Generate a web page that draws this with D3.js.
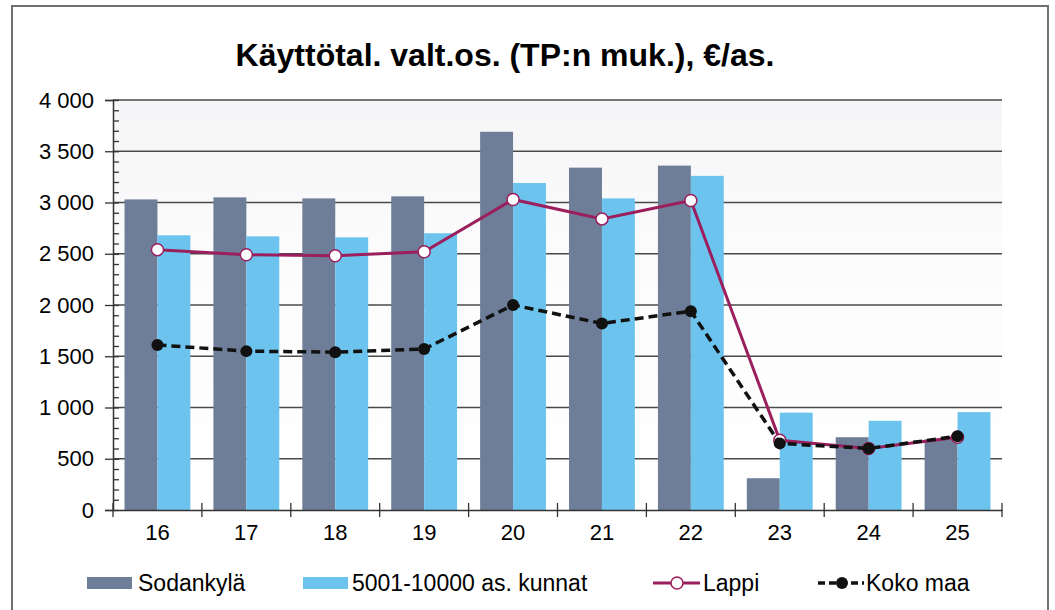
<!DOCTYPE html>
<html>
<head>
<meta charset="utf-8">
<script src="https://cdn.jsdelivr.net/npm/d3@7"></script>
<style>
  body { margin: 0; background: #fff; }
  text { font-family: "Liberation Sans", Arial, sans-serif; fill: #000; }
</style>
</head>
<body>
<main></main>
<script>
const years = ['16', '17', '18', '19', '20', '21', '22', '23', '24', '25'];
const sodankyla = [3030, 3050, 3040, 3060, 3690, 3340, 3360, 310, 710, 690];
const kunnat = [2680, 2670, 2660, 2700, 3190, 3040, 3260, 950, 870, 955];
const lappi = [2540, 2490, 2480, 2520, 3030, 2840, 3020, 680, 600, 710];
const kokoMaa = [1610, 1550, 1540, 1570, 2000, 1820, 1940, 650, 600, 720];
const yTicks = [0, 500, 1000, 1500, 2000, 2500, 3000, 3500, 4000];

const colDark = '#6e7e98';
const colLight = '#6cc4ee';
const colLappi = '#9a1f5c';

const svg = d3.select('main')
    .append('svg')
    .attr('width', 1055)
    .attr('height', 610);

// outer frame
svg.append('rect')
    .attr('x', 12).attr('y', 6)
    .attr('width', 1036).attr('height', 630)
    .attr('fill', '#fff')
    .attr('stroke', '#707070')
    .attr('stroke-width', 2);

svg.append('text')
    .attr('x', 505)
    .attr('y', 66)
    .attr('text-anchor', 'middle')
    .style('font-size', '32px')
    .style('font-weight', 'bold')
    .text('Käyttötal. valt.os. (TP:n muk.), €/as.');

const plotL = 113, plotR = 1002, plotT = 100, plotB = 510;

const x = d3.scaleBand().domain(years).range([plotL, plotR]).padding(0);
const xs = d3.scaleBand().domain([0, 1]).range([0, x.bandwidth()]).paddingOuter(0.35).paddingInner(0);
const y = d3.scaleLinear().domain([0, 4000]).range([plotB, plotT]);

// plot background
const grad = svg.append('defs').append('linearGradient')
    .attr('id', 'bg').attr('x1', 0).attr('y1', 0).attr('x2', 0).attr('y2', 1);
grad.append('stop').attr('offset', '0%').attr('stop-color', '#f5f5f7');
grad.append('stop').attr('offset', '40%').attr('stop-color', '#fcfcfd');
grad.append('stop').attr('offset', '100%').attr('stop-color', '#ffffff');
svg.append('rect')
    .attr('x', plotL).attr('y', plotT)
    .attr('width', plotR - plotL).attr('height', plotB - plotT)
    .attr('fill', 'url(#bg)');

// gridlines
svg.append('g')
    .selectAll('line')
    .data(yTicks.filter(d => d > 0))
    .enter()
    .append('line')
    .attr('x1', plotL).attr('x2', plotR)
    .attr('y1', d => y(d)).attr('y2', d => y(d))
    .attr('stroke', '#4a4a4a')
    .attr('stroke-width', 1.4);

// bars
const groups = svg.append('g')
    .selectAll('g')
    .data(years)
    .enter()
    .append('g')
    .attr('transform', d => `translate(${x(d)},0)`);

groups.append('rect')
    .attr('x', xs(0))
    .attr('width', xs.bandwidth())
    .attr('y', (d, i) => y(sodankyla[i]))
    .attr('height', (d, i) => y(0) - y(sodankyla[i]))
    .attr('fill', colDark);

groups.append('rect')
    .attr('x', xs(1))
    .attr('width', xs.bandwidth())
    .attr('y', (d, i) => y(kunnat[i]))
    .attr('height', (d, i) => y(0) - y(kunnat[i]))
    .attr('fill', colLight);

// y axis
const yAxis = svg.append('g')
    .attr('transform', `translate(${plotL},0)`)
    .call(d3.axisLeft(y)
        .tickValues(yTicks)
        .tickSize(8)
        .tickPadding(11)
        .tickFormat(d => d3.format(',')(d).replace(',', ' ')));
yAxis.selectAll('text').style('font-size', '22px');

const yMinor = svg.append('g')
    .attr('transform', `translate(${plotL},0)`)
    .call(d3.axisRight(y)
        .tickValues(d3.range(0, 4001, 100))
        .tickSize(6)
        .tickFormat(''));
yMinor.select('.domain').remove();

[yAxis, yMinor].forEach(g => {
    g.selectAll('line').attr('stroke', '#333').attr('stroke-width', 1.3);
    g.selectAll('.domain').attr('stroke', '#333').attr('stroke-width', 1.5);
});

// x axis
const xAxis = svg.append('g')
    .attr('transform', `translate(0,${plotB})`)
    .call(d3.axisBottom(x).tickSize(0).tickPadding(14));
xAxis.selectAll('text').style('font-size', '22px');
xAxis.select('.domain').attr('stroke', '#333').attr('stroke-width', 1.5);
xAxis.selectAll('.boundary')
    .data(years.map(d => x(d)).concat([plotR]))
    .enter()
    .append('line')
    .attr('class', 'boundary')
    .attr('x1', d => d).attr('x2', d => d)
    .attr('y1', -7).attr('y2', 7)
    .attr('stroke', '#333')
    .attr('stroke-width', 1.3);

// lines
const cx = (d, i) => x(years[i]) + x.bandwidth() / 2;
const line = d3.line().x(cx).y(d => y(d));

svg.append('path')
    .datum(lappi)
    .attr('d', line)
    .attr('fill', 'none')
    .attr('stroke', colLappi)
    .attr('stroke-width', 3);

svg.append('g')
    .selectAll('circle')
    .data(lappi)
    .enter()
    .append('circle')
    .attr('cx', cx)
    .attr('cy', d => y(d))
    .attr('r', 6)
    .attr('fill', '#fff')
    .attr('stroke', colLappi)
    .attr('stroke-width', 1.5);

svg.append('path')
    .datum(kokoMaa)
    .attr('d', line)
    .attr('fill', 'none')
    .attr('stroke', '#111')
    .attr('stroke-width', 3.5)
    .attr('stroke-dasharray', '9,5');

svg.append('g')
    .selectAll('circle')
    .data(kokoMaa)
    .enter()
    .append('circle')
    .attr('cx', cx)
    .attr('cy', d => y(d))
    .attr('r', 6)
    .attr('fill', '#111');

// legend
const ly = 583;
const legend = svg.append('g').style('font-size', '23px');

legend.append('rect').attr('x', 87).attr('y', ly - 6).attr('width', 45).attr('height', 12).attr('fill', colDark);
legend.append('text').attr('x', 138).attr('y', ly).attr('dy', '0.35em').text('Sodankylä');

legend.append('rect').attr('x', 303).attr('y', ly - 6).attr('width', 45).attr('height', 12).attr('fill', colLight);
legend.append('text').attr('x', 352).attr('y', ly).attr('dy', '0.35em').text('5001-10000 as. kunnat');

legend.append('line').attr('x1', 653).attr('x2', 700).attr('y1', ly).attr('y2', ly)
    .attr('stroke', colLappi).attr('stroke-width', 3);
legend.append('circle').attr('cx', 677).attr('cy', ly).attr('r', 6)
    .attr('fill', '#fff').attr('stroke', colLappi).attr('stroke-width', 1.5);
legend.append('text').attr('x', 703).attr('y', ly).attr('dy', '0.35em').text('Lappi');

legend.append('line').attr('x1', 818).attr('x2', 864).attr('y1', ly).attr('y2', ly)
    .attr('stroke', '#111').attr('stroke-width', 3.5).attr('stroke-dasharray', '7,4');
legend.append('circle').attr('cx', 842).attr('cy', ly).attr('r', 6).attr('fill', '#111');
legend.append('text').attr('x', 866).attr('y', ly).attr('dy', '0.35em').text('Koko maa');
</script>
</body>
</html>
